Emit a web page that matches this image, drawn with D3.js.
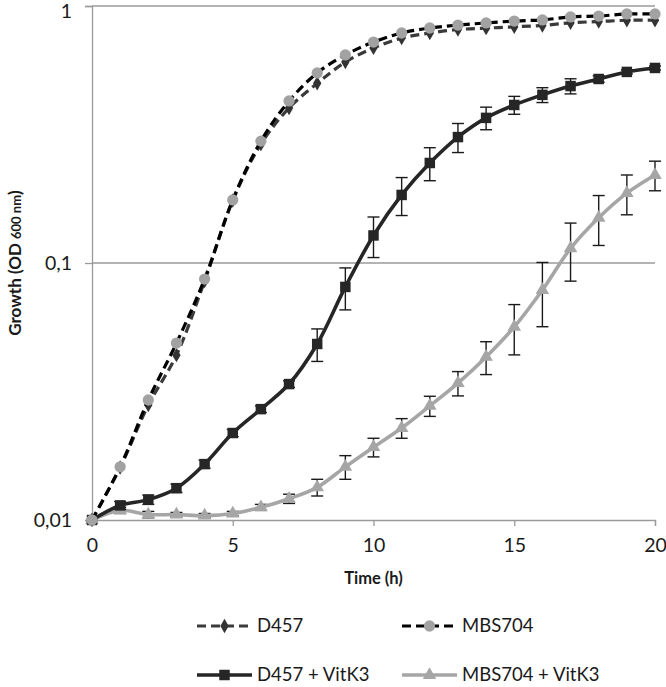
<!DOCTYPE html>
<html>
<head>
<meta charset="utf-8">
<script src="https://cdn.jsdelivr.net/npm/d3@7"></script>
<style>
  body { margin: 0; background: #fff; }
  text { font-family: Lato, "Open Sans", sans-serif; fill: #1a1a1a; }
</style>
</head>
<body>
<div id="chart"></div>
<script>
// time points (h)
const hours = d3.range(0, 21);

const d457 = [0.01, 0.016, 0.028, 0.0438, 0.085, 0.175, 0.29, 0.401, 0.50, 0.605, 0.687,
              0.75, 0.785, 0.81, 0.82, 0.83, 0.84, 0.86, 0.87, 0.88, 0.88];
const mbs704 = [0.01, 0.0161, 0.0293, 0.0488, 0.0866, 0.176, 0.298, 0.427, 0.549, 0.645, 0.724,
                0.785, 0.821, 0.843, 0.859, 0.874, 0.883, 0.907, 0.914, 0.931, 0.931];
const d457Vit = [0.01, 0.0114, 0.012, 0.0133, 0.0165, 0.0218, 0.027, 0.0338, 0.0484, 0.0807, 0.128,
                 0.184, 0.245, 0.309, 0.367, 0.412, 0.451, 0.488, 0.52, 0.554, 0.574];
const d457VitErr = [0, 0.0004, 0.0005, 0.0005, 0.0006, 0.0007, 0.0008, 0.001, 0.007, 0.015, 0.023,
                    0.031, 0.036, 0.04, 0.037, 0.033, 0.03, 0.033, 0.015, 0.01, 0.01];
const mbsVit = [0.01, 0.0109, 0.0105, 0.0105, 0.0104, 0.0106, 0.0112, 0.0121, 0.0134, 0.0161, 0.0192,
                0.0228, 0.0278, 0.0341, 0.0431, 0.0564, 0.0785, 0.114, 0.15, 0.187, 0.22];
const mbsVitErr = [0, 0.0003, 0.0003, 0.0002, 0.0002, 0.0002, 0.0003, 0.0005, 0.001, 0.0017, 0.0016,
                   0.002, 0.0025, 0.0037, 0.0063, 0.0125, 0.022, 0.029, 0.033, 0.033, 0.029];

const xTicks = [0, 5, 10, 15, 20];
const yTicks = [0.01, 0.1, 1];
const yTickLabels = ["0,01", "0,1", "1"];

const width = 666, height = 687;
const margin = {left: 92, right: 11, top: 6, bottom: 167};

const svg = d3.select('#chart').append('svg')
    .attr('width', width)
    .attr('height', height);

const x = d3.scaleLinear().domain([0, 20]).range([margin.left, width - margin.right]);
const y = d3.scaleLog().domain([0.01, 1]).range([height - margin.bottom, margin.top]);

// gridlines
svg.append('g')
    .selectAll('line')
    .data(yTicks.slice(1))
    .enter()
    .append('line')
    .attr('x1', x(0))
    .attr('x2', x(20))
    .attr('y1', d => y(d))
    .attr('y2', d => y(d))
    .attr('stroke', '#9a9a9a')
    .attr('stroke-width', 1.3);

// axes
const xAxis = svg.append('g')
    .attr('transform', `translate(0,${y(0.01)})`)
    .call(d3.axisBottom(x).tickValues(xTicks).tickSize(6).tickPadding(12).tickFormat(d3.format('d')));
const yAxis = svg.append('g')
    .attr('transform', `translate(${x(0)},0)`)
    .call(d3.axisLeft(y).tickValues(yTicks).tickSize(7).tickPadding(13)
        .tickFormat(d => yTickLabels[yTicks.indexOf(d)]));

[xAxis, yAxis].forEach(a => {
    a.select('.domain').attr('stroke', '#9a9a9a').attr('stroke-width', 1.3);
    a.selectAll('.tick line').attr('stroke', '#9a9a9a').attr('stroke-width', 1.3);
    a.selectAll('.tick text').attr('font-size', 19.5).attr('fill', '#1a1a1a')
        .attr('font-family', 'Lato, sans-serif');
});
yAxis.selectAll('.tick text').attr('dy', d => d === 1 ? '0.6em' : '0.35em');

// axis titles
svg.append('text')
    .attr('x', (x(0) + x(20)) / 2)
    .attr('y', 584)
    .attr('text-anchor', 'middle')
    .attr('font-size', 16.5)
    .attr('font-weight', 'bold')
    .text('Time (h)');

const yTitle = svg.append('text')
    .attr('transform', `translate(21,${y(0.1)}) rotate(-90)`)
    .attr('text-anchor', 'middle')
    .attr('font-size', 17)
    .attr('font-weight', 'bold');
yTitle.append('tspan').text('Growth (OD ');
yTitle.append('tspan').attr('font-size', 13).text('600 nm');
yTitle.append('tspan').text(')');

// series
const series = [
    {name: 'D457', values: d457, color: '#3a3a3a', dash: '9,5', width: 3.2, marker: 'diamond', mcolor: '#333'},
    {name: 'MBS704', values: mbs704, color: '#000', dash: '9,5', width: 3.2, marker: 'circle', mcolor: '#a2a2a2'},
    {name: 'D457 + VitK3', values: d457Vit, err: d457VitErr, color: '#262626', dash: null, width: 3.6, marker: 'square', mcolor: '#262626'},
    {name: 'MBS704 + VitK3', values: mbsVit, err: mbsVitErr, color: '#a6a6a6', dash: null, width: 3.6, marker: 'triangle', mcolor: '#a6a6a6'}
];

const symbols = {
    diamond: d3.symbol().type(d3.symbolDiamond).size(60),
    circle: d3.symbol().type(d3.symbolCircle).size(100),
    square: d3.symbol().type(d3.symbolSquare).size(110),
    triangle: d3.symbol().type(d3.symbolTriangle).size(80)
};

const line = d3.line()
    .x(d => x(d[0]))
    .y(d => y(d[1]))
    .curve(d3.curveCatmullRom.alpha(0.5));

// draw order: solid series first, dashed on top
const drawOrder = [3, 2, 0, 1];
drawOrder.forEach(i => {
    const s = series[i];
    const pts = hours.map((h, j) => [h, s.values[j]]);
    const g = svg.append('g');

    if (s.err) {
        const capW = 6;
        const eb = g.append('g').selectAll('g')
            .data(pts.map((p, j) => ({t: p[0], v: p[1], e: s.err[j]})).filter(d => d.e > 0))
            .enter()
            .append('g')
            .attr('stroke', '#1a1a1a')
            .attr('stroke-width', 1.4);
        eb.append('line')
            .attr('x1', d => x(d.t)).attr('x2', d => x(d.t))
            .attr('y1', d => y(d.v + d.e)).attr('y2', d => y(Math.max(d.v - d.e, 0.0101)));
        eb.append('line')
            .attr('x1', d => x(d.t) - capW).attr('x2', d => x(d.t) + capW)
            .attr('y1', d => y(d.v + d.e)).attr('y2', d => y(d.v + d.e));
        eb.append('line')
            .attr('x1', d => x(d.t) - capW).attr('x2', d => x(d.t) + capW)
            .attr('y1', d => y(Math.max(d.v - d.e, 0.0101))).attr('y2', d => y(Math.max(d.v - d.e, 0.0101)));
    }

    g.append('path')
        .datum(pts)
        .attr('d', line)
        .attr('fill', 'none')
        .attr('stroke', s.color)
        .attr('stroke-width', s.width)
        .attr('stroke-dasharray', s.dash);

    g.selectAll('path.marker')
        .data(pts)
        .enter()
        .append('path')
        .attr('class', 'marker')
        .attr('d', symbols[s.marker])
        .attr('transform', d => `translate(${x(d[0])},${y(d[1])})`)
        .attr('fill', s.mcolor);
});

// legend
const legendPos = [[197, 626], [402, 626], [197, 675], [402, 675]];
const legend = svg.append('g')
    .selectAll('g')
    .data(series)
    .enter()
    .append('g')
    .attr('transform', (d, i) => `translate(${legendPos[i][0]},${legendPos[i][1]})`);

legend.append('line')
    .attr('x1', 0).attr('x2', 55)
    .attr('y1', 0).attr('y2', 0)
    .attr('stroke', d => d.color)
    .attr('stroke-width', d => d.width)
    .attr('stroke-dasharray', d => d.dash);
legend.append('path')
    .attr('d', d => symbols[d.marker]())
    .attr('transform', 'translate(27.5,0)')
    .attr('fill', d => d.mcolor);
legend.append('text')
    .attr('x', 60)
    .attr('y', 0)
    .attr('dy', '0.35em')
    .attr('font-size', 18.5)
    .attr('font-family', 'Lato, sans-serif')
    .text(d => d.name);
</script>
</body>
</html>
